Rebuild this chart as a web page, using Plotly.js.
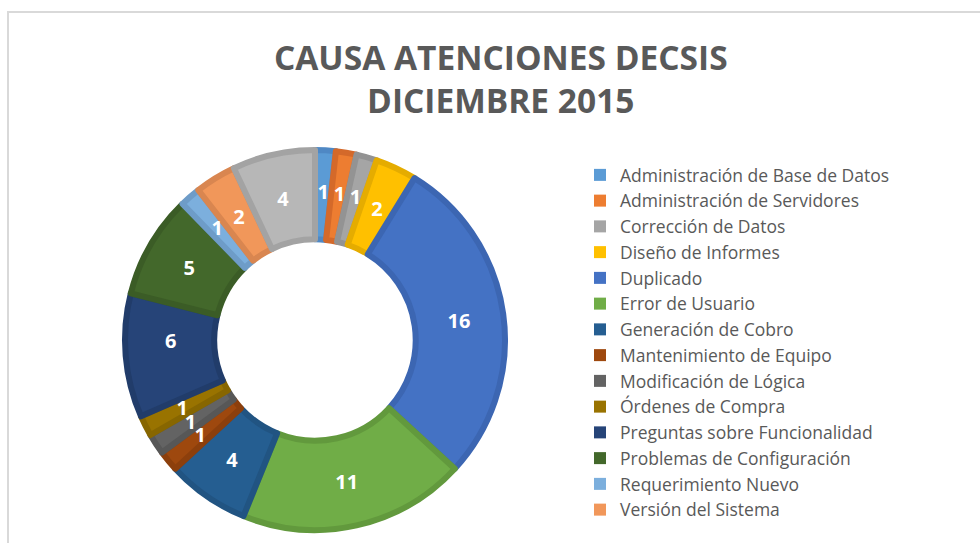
<!DOCTYPE html>
<html>
<head>
<meta charset="utf-8">
<script src="https://cdn.plot.ly/plotly-3.0.1.min.js"></script>
<style>html,body{margin:0;padding:0;background:#fff;}#chart{width:980px;height:543px;}</style>
</head>
<body>
<div id="chart"></div>
<script>
const categories = [
  "Administración de Base de Datos",
  "Administración de Servidores",
  "Corrección de Datos",
  "Diseño de Informes",
  "Duplicado",
  "Error de Usuario",
  "Generación de Cobro",
  "Mantenimiento de Equipo",
  "Modificación de Lógica",
  "Órdenes de Compra",
  "Preguntas sobre Funcionalidad",
  "Problemas de Configuración",
  "Requerimiento Nuevo",
  "Versión del Sistema",
  "Otros"
];
const counts = [1, 1, 1, 2, 16, 11, 4, 1, 1, 1, 6, 5, 1, 2, 4];
const legendCount = 14; // the reference legend lists only the first 14 categories
const fillColors = ["#5B9BD5","#ED7D31","#A5A5A5","#FFC000","#4472C4","#70AD47","#255E91","#9E480E","#636363","#997300","#264478","#43682B","#7CAFDD","#F1975A","#B7B7B7"];
const edgeColors = ["#4F88C4","#D4692A","#939393","#E5AC00","#3C66B2","#62993D","#215482","#8C3F0C","#575757","#876600","#213C6A","#3B5C26","#6E9CC8","#D98650","#A3A3A3"];
const titleText = "CAUSA ATENCIONES DECSIS<br>DICIEMBRE 2015";

const cx = 315, cy = 340, r = 190, W = 980, H = 543;
function dom(rad) {
  return {x: [(cx - rad) / W, (cx + rad) / W], y: [(H - cy - rad) / H, (H - cy + rad) / H]};
}
const clear = categories.map(() => "rgba(0,0,0,0)");
const labelFont = {family: "Open Sans, sans-serif", size: 20, color: "#ffffff", weight: "bold"};

const donut = {
  type: "pie",
  labels: categories,
  values: counts,
  showlegend: false,
  hole: 0.53,
  sort: false,
  direction: "clockwise",
  rotation: 0,
  marker: {colors: fillColors, line: {color: edgeColors, width: 6}},
  textinfo: "none",
  hoverinfo: "label+value",
  domain: dom(r)
};
// value labels of the two large slices, centred in the full band
const bigLabels = {
  type: "pie",
  labels: categories,
  values: counts,
  text: counts.map(v => (v >= 10 ? String(v) : "")),
  showlegend: false,
  hole: 0.53,
  sort: false,
  direction: "clockwise",
  rotation: 0,
  marker: {colors: clear, line: {width: 0}},
  textinfo: "text",
  textposition: "inside",
  insidetextorientation: "horizontal",
  textfont: labelFont,
  hoverinfo: "skip",
  domain: dom(r)
};
// value labels of the other slices, on a transparent ring at the middle of the band
const rLab = 157;
const smallLabels = {
  type: "pie",
  labels: categories,
  values: counts,
  text: counts.map(v => (v < 10 ? String(v) : "")),
  showlegend: false,
  hole: 0.85,
  sort: false,
  direction: "clockwise",
  rotation: 0,
  marker: {colors: clear, line: {width: 0}},
  textinfo: "text",
  textposition: "inside",
  insidetextorientation: "horizontal",
  textfont: labelFont,
  hoverinfo: "skip",
  domain: dom(rLab)
};
// legend carrier: first 14 categories, drawn at a negligible size inside the hole
const legendCarrier = {
  type: "pie",
  labels: categories.slice(0, legendCount),
  values: counts.slice(0, legendCount),
  showlegend: true,
  sort: false,
  direction: "clockwise",
  marker: {colors: fillColors.slice(0, legendCount), line: {width: 0}},
  textinfo: "none",
  hoverinfo: "skip",
  domain: {x: [cx / W, (cx + 0.05) / W], y: [(H - cy) / H, (H - cy + 0.05) / H]}
};

const layout = {
  width: W, height: H,
  margin: {l: 0, r: 0, t: 0, b: 0, autoexpand: false},
  paper_bgcolor: "#ffffff",
  uniformtext: {mode: "show", minsize: 20},
  title: {
    text: titleText,
    x: 0.511, xanchor: "center",
    y: 1 - 69.5 / H, yanchor: "middle",
    font: {family: "Open Sans, sans-serif", size: 33.5, color: "#595959", weight: "bold"}
  },
  showlegend: true,
  legend: {
    x: 580 / W, xanchor: "left",
    y: 1 - 157 / H, yanchor: "top",
    font: {family: "Open Sans, sans-serif", size: 17.5, color: "#595959"},
    bgcolor: "rgba(0,0,0,0)",
    tracegroupgap: 0
  },
  shapes: [{
    type: "rect", xref: "paper", yref: "paper",
    x0: 8 / W, x1: 1.02, y0: -0.05, y1: (H - 12) / H,
    line: {color: "#d9d9d9", width: 2}
  }]
};

Plotly.newPlot("chart", [donut, bigLabels, smallLabels, legendCarrier], layout, {displayModeBar: false, staticPlot: true});
</script>
</body>
</html>
